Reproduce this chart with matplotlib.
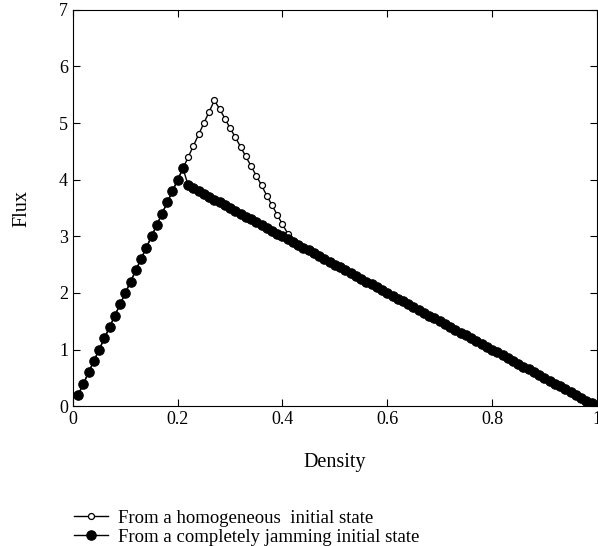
import numpy as np
import matplotlib.pyplot as plt

# density grid (0.01 .. 1.00)
density = np.round(np.arange(1, 101) * 0.01, 2)

# rising branch, density 0.01 .. 0.21 (both runs identical here)
flux_rise = [0.2, 0.4, 0.6, 0.8, 1.0, 1.2, 1.4, 1.6, 1.8, 2.0, 2.2,
             2.4, 2.6, 2.8, 3.0, 3.2, 3.4, 3.6, 3.8, 4.0, 4.2]

# homogeneous start, metastable branch density 0.22 .. 0.41
flux_homog_peak = [4.4, 4.6, 4.8, 5.0, 5.2, 5.4, 5.25, 5.08, 4.91, 4.75,
                   4.58, 4.41, 4.24, 4.07, 3.9, 3.72, 3.55, 3.38, 3.21, 3.05]

# jammed branch, density 0.22 .. 1.00
flux_jam = [3.90, 3.85, 3.80, 3.75, 3.70, 3.65, 3.60, 3.55, 3.50, 3.45,
            3.40, 3.35, 3.30, 3.25, 3.20, 3.15, 3.10, 3.05, 3.00, 2.95,
            2.90, 2.85, 2.80, 2.75, 2.70, 2.65, 2.60, 2.55, 2.50, 2.45,
            2.40, 2.35, 2.30, 2.25, 2.20, 2.15, 2.10, 2.05, 2.00, 1.95,
            1.90, 1.85, 1.80, 1.75, 1.70, 1.65, 1.60, 1.55, 1.50, 1.45,
            1.40, 1.35, 1.30, 1.25, 1.20, 1.15, 1.10, 1.05, 1.00, 0.95,
            0.90, 0.85, 0.80, 0.75, 0.70, 0.65, 0.60, 0.55, 0.50, 0.45,
            0.40, 0.35, 0.30, 0.25, 0.20, 0.15, 0.10, 0.05, 0.00]

flux_homog = flux_rise + flux_homog_peak + flux_jam[20:]
flux_jammed = flux_rise + flux_jam

plt.rcParams['font.family'] = ['Liberation Serif', 'DejaVu Serif']

fig = plt.figure(figsize=(5.98, 5.46), dpi=100)
ax = fig.add_axes([0.122, 0.256, 0.876, 0.726])

ax.plot(density, flux_homog, '-o', color='black', lw=1, ms=4.3,
        mfc='white', mec='black', mew=0.9,
        label='From a homogeneous  initial state', zorder=2)
ax.plot(density, flux_jammed, '-o', color='black', lw=1, ms=6.8,
        mfc='black', mec='black', mew=0.8,
        label='From a completely jamming initial state', zorder=3)

ax.set_xlim(0, 1)
ax.set_ylim(0, 7)
ax.set_xticks([0, 0.2, 0.4, 0.6, 0.8, 1])
ax.set_xticklabels(['0', '0.2', '0.4', '0.6', '0.8', '1'])
ax.set_yticks(range(8))
ax.tick_params(direction='in', length=5, labelsize=13, top=True, right=True)
ax.set_xlabel('Density', fontsize=14.5, labelpad=18)
ax.set_ylabel('Flux', fontsize=14.5, labelpad=20)

fig.legend(loc='upper left', bbox_to_anchor=(0.112, 0.08),
           frameon=False, fontsize=13.5, handlelength=1.8,
           handletextpad=0.5, labelspacing=0.1, borderaxespad=0)

plt.savefig('out.png', dpi=100)
